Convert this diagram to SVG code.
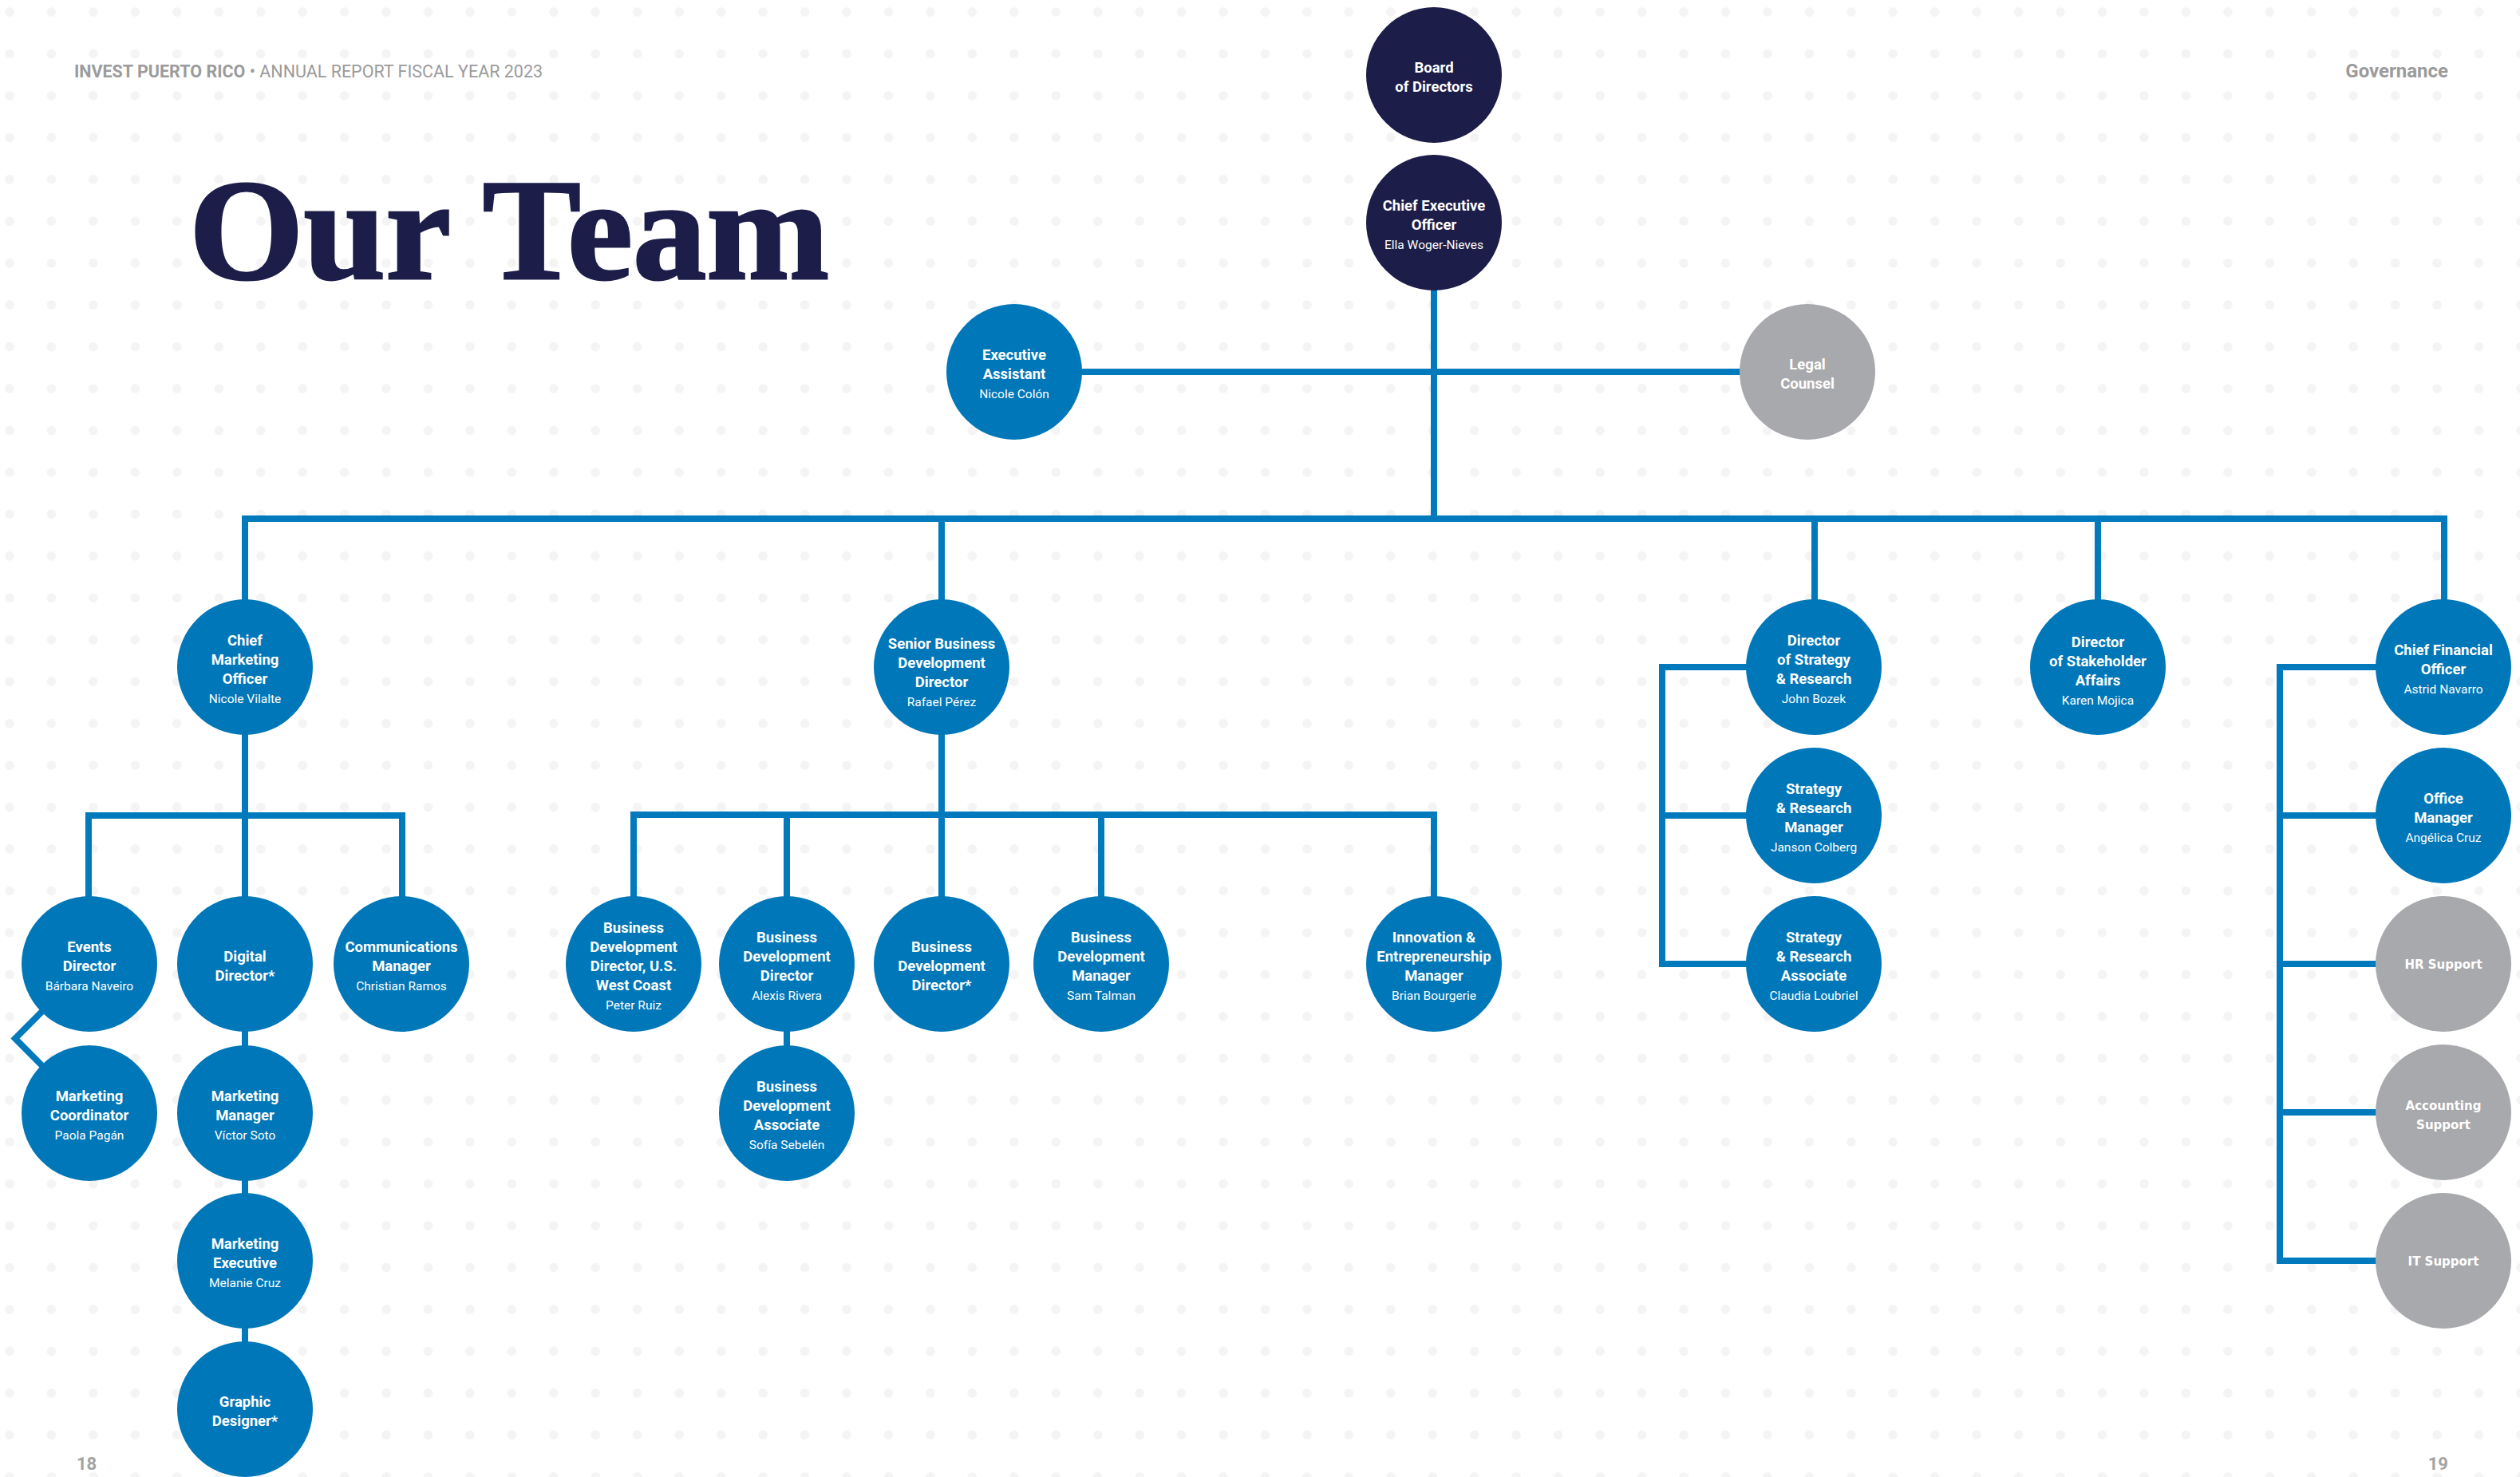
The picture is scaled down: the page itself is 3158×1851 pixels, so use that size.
<svg xmlns="http://www.w3.org/2000/svg" width="3158" height="1851" viewBox="0 0 3158 1851">
<defs>
<pattern id="dots" x="0" y="0" width="52.45" height="52.45" patternUnits="userSpaceOnUse">
<circle cx="12" cy="15" r="5.8" fill="#f4f4f5"/>
</pattern>
<style>
.bg{fill:#ffffff}
.blue{fill:#0077b8}
.navy{fill:#1c1d48}
.gray{fill:#a8a9ac}
.con{fill:none;stroke:#0079bd;stroke-width:8;stroke-linejoin:miter;stroke-linecap:butt}
.t{font-family:Roboto,'Liberation Sans',sans-serif;fill:#ffffff;text-anchor:middle;font-size:18.5px;font-weight:700}
.nm{font-weight:400;font-size:15.5px}
.gs{font-family:'DejaVu Sans','Liberation Sans',sans-serif;fill:#ffffff;text-anchor:middle;font-size:15px;font-weight:700}
.hdr{font-family:Roboto,'Liberation Sans',sans-serif;fill:#9b9b9b;font-size:21.5px}
.gov{font-family:Roboto,'Liberation Sans',sans-serif;fill:#9b9b9b;font-size:24px;font-weight:700;text-anchor:end}
.pg{font-family:Roboto,'Liberation Sans',sans-serif;fill:#a3a3a3;font-size:22px;font-weight:700}
.title{font-family:'Liberation Serif','DejaVu Serif',serif;fill:#1c1d48;stroke:#1c1d48;stroke-width:3;font-size:180px;font-weight:700}
</style>
</defs>
<rect class="bg" x="0" y="0" width="3158" height="1851"/>
<rect x="0" y="0" width="3158" height="1851" fill="url(#dots)"/>

<g id="header">
<text class="hdr" x="93" y="97"><tspan font-weight="700">INVEST PUERTO RICO</tspan> • ANNUAL REPORT FISCAL YEAR 2023</text>
<text class="gov" x="3068" y="97">Governance</text>
<text class="title" x="237" y="349" textLength="802" lengthAdjust="spacingAndGlyphs">Our Team</text>
<text class="pg" x="96" y="1842">18</text>
<text class="pg" x="3068" y="1842" text-anchor="end">19</text>
</g>

<g id="connectors">
<path class="con" d="M1797 279 V650"/>
<path class="con" d="M1271 466 H2265"/>
<path class="con" d="M307 836 V650 H3063 V836"/>
<path class="con" d="M1180 650 V836"/>
<path class="con" d="M2274 650 V836"/>
<path class="con" d="M2629 650 V836"/>
<path class="con" d="M111 1208 V1022 H504 V1208"/>
<path class="con" d="M307 836 V1766"/>
<path class="con" d="M112 1208 L19 1301.5 L112 1395"/>
<path class="con" d="M794 1208 V1021 H1797 V1208"/>
<path class="con" d="M1180 836 V1208"/>
<path class="con" d="M986 1021 V1395"/>
<path class="con" d="M1380 1021 V1208"/>
<path class="con" d="M2273 836 H2083 V1208 H2273"/>
<path class="con" d="M2083 1022 H2273"/>
<path class="con" d="M3062 836 H2857 V1580 H3062"/>
<path class="con" d="M2857 1022 H3062"/>
<path class="con" d="M2857 1208 H3062"/>
<path class="con" d="M2857 1394 H3062"/>
</g>

<g id="board"><circle class="navy" cx="1797" cy="94" r="85"/>
<text class="t" x="1797" y="91">Board<tspan x="1797" dy="24">of Directors</tspan></text></g>

<g id="ceo"><circle class="navy" cx="1797" cy="279" r="85"/>
<text class="t" x="1797" y="264">Chief Executive<tspan x="1797" dy="24">Officer</tspan><tspan class="nm" x="1797" dy="24">Ella Woger-Nieves</tspan></text></g>

<g id="executive-assistant"><circle class="blue" cx="1271" cy="466" r="85"/>
<text class="t" x="1271" y="451">Executive<tspan x="1271" dy="24">Assistant</tspan><tspan class="nm" x="1271" dy="24">Nicole Colón</tspan></text></g>

<g id="legal-counsel"><circle class="gray" cx="2265" cy="466" r="85"/>
<text class="t" x="2265" y="463">Legal<tspan x="2265" dy="24">Counsel</tspan></text></g>

<g id="cmo"><circle class="blue" cx="307" cy="836" r="85"/>
<text class="t" x="307" y="809">Chief<tspan x="307" dy="24">Marketing</tspan><tspan x="307" dy="24">Officer</tspan><tspan class="nm" x="307" dy="24">Nicole Vilalte</tspan></text></g>

<g id="senior-bd-director"><circle class="blue" cx="1180" cy="836" r="85"/>
<text class="t" x="1180" y="813">Senior Business<tspan x="1180" dy="24">Development</tspan><tspan x="1180" dy="24">Director</tspan><tspan class="nm" x="1180" dy="24">Rafael Pérez</tspan></text></g>

<g id="director-strategy"><circle class="blue" cx="2273" cy="836" r="85"/>
<text class="t" x="2273" y="809">Director<tspan x="2273" dy="24">of Strategy</tspan><tspan x="2273" dy="24">&amp; Research</tspan><tspan class="nm" x="2273" dy="24">John Bozek</tspan></text></g>

<g id="director-stakeholder"><circle class="blue" cx="2629" cy="836" r="85"/>
<text class="t" x="2629" y="811">Director<tspan x="2629" dy="24">of Stakeholder</tspan><tspan x="2629" dy="24">Affairs</tspan><tspan class="nm" x="2629" dy="24">Karen Mojica</tspan></text></g>

<g id="cfo"><circle class="blue" cx="3062" cy="836" r="85"/>
<text class="t" x="3062" y="821">Chief Financial<tspan x="3062" dy="24">Officer</tspan><tspan class="nm" x="3062" dy="24">Astrid Navarro</tspan></text></g>

<g id="events-director"><circle class="blue" cx="112" cy="1208" r="85"/>
<text class="t" x="112" y="1193">Events<tspan x="112" dy="24">Director</tspan><tspan class="nm" x="112" dy="24">Bárbara Naveiro</tspan></text></g>

<g id="digital-director"><circle class="blue" cx="307" cy="1208" r="85"/>
<text class="t" x="307" y="1205">Digital<tspan x="307" dy="24">Director*</tspan></text></g>

<g id="communications-manager"><circle class="blue" cx="503" cy="1208" r="85"/>
<text class="t" x="503" y="1193">Communications<tspan x="503" dy="24">Manager</tspan><tspan class="nm" x="503" dy="24">Christian Ramos</tspan></text></g>

<g id="marketing-coordinator"><circle class="blue" cx="112" cy="1395" r="85"/>
<text class="t" x="112" y="1380">Marketing<tspan x="112" dy="24">Coordinator</tspan><tspan class="nm" x="112" dy="24">Paola Pagán</tspan></text></g>

<g id="marketing-manager"><circle class="blue" cx="307" cy="1395" r="85"/>
<text class="t" x="307" y="1380">Marketing<tspan x="307" dy="24">Manager</tspan><tspan class="nm" x="307" dy="24">Víctor Soto</tspan></text></g>

<g id="marketing-executive"><circle class="blue" cx="307" cy="1580" r="85"/>
<text class="t" x="307" y="1565">Marketing<tspan x="307" dy="24">Executive</tspan><tspan class="nm" x="307" dy="24">Melanie Cruz</tspan></text></g>

<g id="graphic-designer"><circle class="blue" cx="307" cy="1766" r="85"/>
<text class="t" x="307" y="1763">Graphic<tspan x="307" dy="24">Designer*</tspan></text></g>

<g id="bd-director-west-coast"><circle class="blue" cx="794" cy="1208" r="85"/>
<text class="t" x="794" y="1169">Business<tspan x="794" dy="24">Development</tspan><tspan x="794" dy="24">Director, U.S.</tspan><tspan x="794" dy="24">West Coast</tspan><tspan class="nm" x="794" dy="24">Peter Ruiz</tspan></text></g>

<g id="bd-director"><circle class="blue" cx="986" cy="1208" r="85"/>
<text class="t" x="986" y="1181">Business<tspan x="986" dy="24">Development</tspan><tspan x="986" dy="24">Director</tspan><tspan class="nm" x="986" dy="24">Alexis Rivera</tspan></text></g>

<g id="bd-director-open"><circle class="blue" cx="1180" cy="1208" r="85"/>
<text class="t" x="1180" y="1193">Business<tspan x="1180" dy="24">Development</tspan><tspan x="1180" dy="24">Director*</tspan></text></g>

<g id="bd-manager"><circle class="blue" cx="1380" cy="1208" r="85"/>
<text class="t" x="1380" y="1181">Business<tspan x="1380" dy="24">Development</tspan><tspan x="1380" dy="24">Manager</tspan><tspan class="nm" x="1380" dy="24">Sam Talman</tspan></text></g>

<g id="innovation-manager"><circle class="blue" cx="1797" cy="1208" r="85"/>
<text class="t" x="1797" y="1181">Innovation &amp;<tspan x="1797" dy="24">Entrepreneurship</tspan><tspan x="1797" dy="24">Manager</tspan><tspan class="nm" x="1797" dy="24">Brian Bourgerie</tspan></text></g>

<g id="bd-associate"><circle class="blue" cx="986" cy="1395" r="85"/>
<text class="t" x="986" y="1368">Business<tspan x="986" dy="24">Development</tspan><tspan x="986" dy="24">Associate</tspan><tspan class="nm" x="986" dy="24">Sofía Sebelén</tspan></text></g>

<g id="strategy-manager"><circle class="blue" cx="2273" cy="1022" r="85"/>
<text class="t" x="2273" y="995">Strategy<tspan x="2273" dy="24">&amp; Research</tspan><tspan x="2273" dy="24">Manager</tspan><tspan class="nm" x="2273" dy="24">Janson Colberg</tspan></text></g>

<g id="strategy-associate"><circle class="blue" cx="2273" cy="1208" r="85"/>
<text class="t" x="2273" y="1181">Strategy<tspan x="2273" dy="24">&amp; Research</tspan><tspan x="2273" dy="24">Associate</tspan><tspan class="nm" x="2273" dy="24">Claudia Loubriel</tspan></text></g>

<g id="office-manager"><circle class="blue" cx="3062" cy="1022" r="85"/>
<text class="t" x="3062" y="1007">Office<tspan x="3062" dy="24">Manager</tspan><tspan class="nm" x="3062" dy="24">Angélica Cruz</tspan></text></g>

<g id="hr-support"><circle class="gray" cx="3062" cy="1208" r="85"/>
<text class="gs" x="3062" y="1214">HR Support</text></g>

<g id="accounting-support"><circle class="gray" cx="3062" cy="1394" r="85"/>
<text class="gs" x="3062" y="1391">Accounting<tspan x="3062" dy="24">Support</tspan></text></g>

<g id="it-support"><circle class="gray" cx="3062" cy="1580" r="85"/>
<text class="gs" x="3062" y="1586">IT Support</text></g>
</svg>
